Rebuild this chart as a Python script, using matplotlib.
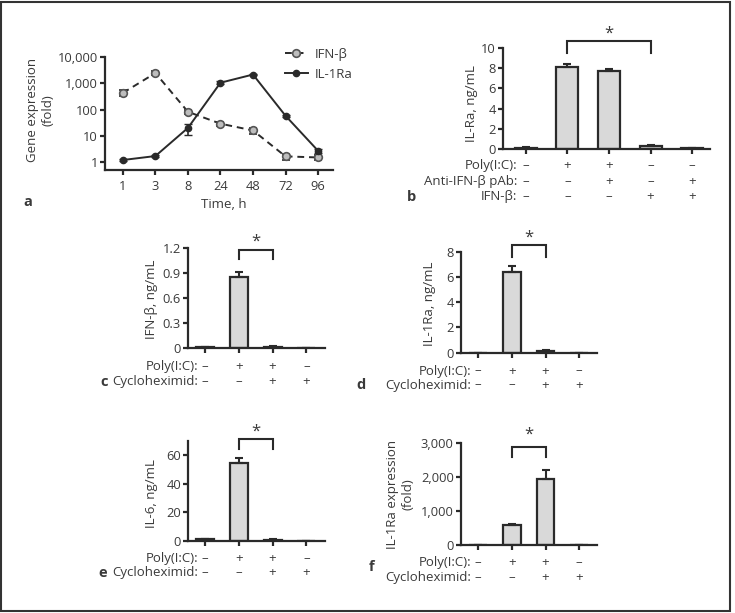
import matplotlib
matplotlib.use('Agg')
import matplotlib.pyplot as plt
import numpy as np
from matplotlib.patches import Rectangle
from matplotlib.lines import Line2D

plt.rcParams['font.family'] = ['Open Sans', 'DejaVu Sans']

# ---------------- data ----------------
time_labels = ['1', '3', '8', '24', '48', '72', '96']
ifnb_fold = [430, 2450, 82, 29, 16, 1.65, 1.5]
ifnb_fold_err = [110, 400, 15, 6, 4, 0.45, 0.35]
il1ra_fold = [1.2, 1.7, 20, 1050, 2150, 58, 2.7]
il1ra_fold_err = [0.1, 0.15, 9, 120, 150, 6, 0.5]
a_yticks = [1, 10, 100, 1000, 10000]
a_yticklabels = ['1', '10', '100', '1,000', '10,000']

b_vals = [0.15, 8.1, 7.75, 0.3, 0.12]
b_err = [0.05, 0.3, 0.2, 0.15, 0.03]
b_row_names = ['Poly(I:C):', 'Anti-IFN-β pAb:', 'IFN-β:']
b_rows = [['–', '+', '+', '–', '–'],
          ['–', '–', '+', '–', '+'],
          ['–', '–', '–', '+', '+']]

cd_row_names = ['Poly(I:C):', 'Cycloheximid:']
cd_rows = [['–', '+', '+', '–'],
           ['–', '–', '+', '+']]

c_vals = [0.01, 0.86, 0.015, 0.005]
c_err = [0.005, 0.06, 0.01, 0.0]
d_vals = [0.0, 6.4, 0.15, 0.0]
d_err = [0.0, 0.5, 0.1, 0.0]
e_vals = [1.0, 54.5, 0.8, 0.1]
e_err = [0.3, 3.5, 0.2, 0.0]
f_vals = [0.0, 590, 1940, 0.0]
f_err = [0.0, 40, 250, 0.0]

W, H = 735, 613
DARK = '#2a2a2a'
TXT = '#3a3a3a'
FILL = '#d9d9d9'
FS = 9.5
TFS = 9.3

fig = plt.figure(figsize=(W / 100, H / 100), dpi=100)


def axpx(x0, x1, y0, y1):
    return fig.add_axes([x0 / W, 1 - y1 / H, (x1 - x0) / W, (y1 - y0) / H])


def style(ax):
    for s in ['top', 'right']:
        ax.spines[s].set_visible(False)
    for s in ['left', 'bottom']:
        ax.spines[s].set_linewidth(1.6)
        ax.spines[s].set_color(DARK)
    ax.tick_params(direction='out', length=3.5, width=1.6, color=DARK,
                   labelsize=TFS, labelcolor=TXT, pad=1.5)
    ax.minorticks_off()


def ftext(x, y, s, **kw):
    fig.text(x / W, 1 - y / H, s, color=TXT, **kw)


def bracket(ax, x1, x2, ytop, yleg, star_off):
    ax.plot([x1, x1, x2, x2], [yleg, ytop, ytop, yleg], color=DARK, lw=1.5,
            clip_on=False, solid_joinstyle='miter')
    ax.annotate('*', xy=((x1 + x2) / 2, ytop), xytext=(0, star_off),
                textcoords='offset points', ha='center', va='center',
                fontsize=12, color=TXT, annotation_clip=False)


def rows_table(ax, names, rows, offs_pt):
    for name, row, off in zip(names, rows, offs_pt):
        ax.annotate(name, xy=(-0.2, 0), xycoords=('data', 'axes fraction'),
                    xytext=(0, -off), textcoords='offset points', ha='right',
                    va='center', fontsize=FS, color=TXT)
        for j, sym in enumerate(row):
            ax.annotate(sym, xy=(j, 0), xycoords=('data', 'axes fraction'),
                        xytext=(0, -off), textcoords='offset points',
                        ha='center', va='center', fontsize=FS, color=TXT)


def barpanel(ax, vals, errs, xlim, ylim, yticks, ytl):
    x = np.arange(len(vals))
    ax.bar(x, vals, width=0.53, color=FILL, edgecolor=DARK, linewidth=1.6, zorder=2)
    ax.errorbar(x, vals, yerr=[np.zeros(len(vals)), errs], fmt='none', ecolor=DARK,
                elinewidth=1.5, capsize=3.2, capthick=1.5, zorder=3)
    ax.set_xlim(*xlim)
    ax.set_ylim(*ylim)
    ax.set_xticks(x)
    ax.set_xticklabels([])
    ax.set_yticks(yticks)
    ax.set_yticklabels(ytl)
    style(ax)


# ---------------- panel a ----------------
axa = axpx(105, 333, 57, 170)
xt = np.arange(len(time_labels))
axa.errorbar(xt, ifnb_fold, yerr=ifnb_fold_err, color=DARK, lw=1.4, ls=(0, (3.5, 2.5)),
             marker='o', ms=5.5, mfc='#bdbdbd', mec='#555555', mew=1.2,
             ecolor=DARK, elinewidth=1.2, capsize=3, zorder=3)
axa.errorbar(xt, il1ra_fold, yerr=il1ra_fold_err, color=DARK, lw=1.4, ls='-',
             marker='o', ms=4.5, mfc=DARK, mec=DARK,
             ecolor=DARK, elinewidth=1.2, capsize=3, zorder=4)
axa.set_yscale('log')
axa.set_ylim(0.5, 10000)
axa.set_xlim(-0.55, 6.46)
axa.set_xticks(xt)
axa.set_xticklabels(time_labels)
axa.set_yticks(a_yticks)
axa.set_yticklabels(a_yticklabels)
style(axa)
axa.tick_params(axis='x', pad=4)
h1 = Line2D([], [], color=DARK, lw=1.4, ls=(0, (3.5, 2.5)), marker='o', ms=5.5,
            mfc='#bdbdbd', mec='#555555', mew=1.2)
h2 = Line2D([], [], color=DARK, lw=1.4, ls='-', marker='o', ms=4.5, mfc=DARK, mec=DARK)
leg = axa.legend([h1, h2], ['IFN-β', 'IL-1Ra'], loc='upper left',
                 bbox_to_anchor=(278 / W, 1 - 41 / H), bbox_transform=fig.transFigure,
                 frameon=False, fontsize=FS, handlelength=1.8, labelspacing=0.55,
                 handletextpad=0.5, borderpad=0)
for t in leg.get_texts():
    t.set_color(TXT)
ftext(40, 110, 'Gene expression\n(fold)', rotation=90, ha='center', va='center',
      fontsize=FS, multialignment='center')
ftext(224, 205, 'Time, h', ha='center', va='center', fontsize=FS)
ftext(28, 202, 'a', ha='center', va='center', fontsize=10.5, fontweight='bold')

# ---------------- panel b ----------------
axb = axpx(503, 710, 47.7, 149.3)
barpanel(axb, b_vals, b_err, (-0.55, 4.43), (0, 10), [0, 2, 4, 6, 8, 10],
         ['0', '2', '4', '6', '8', '10'])
bracket(axb, 1, 3, 10.65, 9.45, 5.5)
rows_table(axb, b_row_names, b_rows, [12, 23.5, 34.3])
ftext(472, 104, 'IL-Ra, ng/mL', rotation=90, ha='center', va='center', fontsize=FS)
ftext(412, 197, 'b', ha='center', va='center', fontsize=10.5, fontweight='bold')

# ---------------- panel c ----------------
axc = axpx(188, 325, 248.3, 348.3)
barpanel(axc, c_vals, c_err, (-0.5, 3.55), (0, 1.2), [0, 0.3, 0.6, 0.9, 1.2],
         ['0', '0.3', '0.6', '0.9', '1.2'])
bracket(axc, 1, 2, 1.18, 1.07, 5.8)
rows_table(axc, cd_row_names, cd_rows, [13, 23.8])
ftext(152, 299, 'IFN-β, ng/mL', rotation=90, ha='center', va='center', fontsize=FS)
ftext(104, 382, 'c', ha='center', va='center', fontsize=10.5, fontweight='bold')

# ---------------- panel d ----------------
axd = axpx(460.7, 596.7, 251.7, 352.7)
barpanel(axd, d_vals, d_err, (-0.52, 3.52), (0, 8), [0, 2, 4, 6, 8],
         ['0', '2', '4', '6', '8'])
bracket(axd, 1, 2, 8.5, 7.6, 5.3)
rows_table(axd, cd_row_names, cd_rows, [13.2, 23.3])
ftext(430, 304, 'IL-1Ra, ng/mL', rotation=90, ha='center', va='center', fontsize=FS)
ftext(361, 385, 'd', ha='center', va='center', fontsize=10.5, fontweight='bold')

# ---------------- panel e ----------------
axe = axpx(188, 325, 440.7, 540.7)
barpanel(axe, e_vals, e_err, (-0.5, 3.55), (0, 70), [0, 20, 40, 60],
         ['0', '20', '40', '60'])
bracket(axe, 1, 2, 71, 64, 5.5)
rows_table(axe, cd_row_names, cd_rows, [12.7, 23.2])
ftext(152, 494, 'IL-6, ng/mL', rotation=90, ha='center', va='center', fontsize=FS)
ftext(103, 573, 'e', ha='center', va='center', fontsize=10.5, fontweight='bold')

# ---------------- panel f ----------------
axf = axpx(460.7, 596.7, 442.7, 545)
barpanel(axf, f_vals, f_err, (-0.52, 3.52), (0, 3000), [0, 1000, 2000, 3000],
         ['0', '1,000', '2,000', '3,000'])
bracket(axf, 1, 2, 2870, 2575, 9)
rows_table(axf, cd_row_names, cd_rows, [12.7, 23.5])
ftext(400, 494, 'IL-1Ra expression\n(fold)', rotation=90, ha='center', va='center',
      fontsize=FS, multialignment='center')
ftext(372, 567, 'f', ha='center', va='center', fontsize=10.5, fontweight='bold')

# frame around the figure
fig.add_artist(Rectangle((1 / W, 2 / H), 729 / W, 609 / H, transform=fig.transFigure,
                         fill=False, lw=1.5, edgecolor='#333333'))

fig.savefig('out.png', dpi=100)
